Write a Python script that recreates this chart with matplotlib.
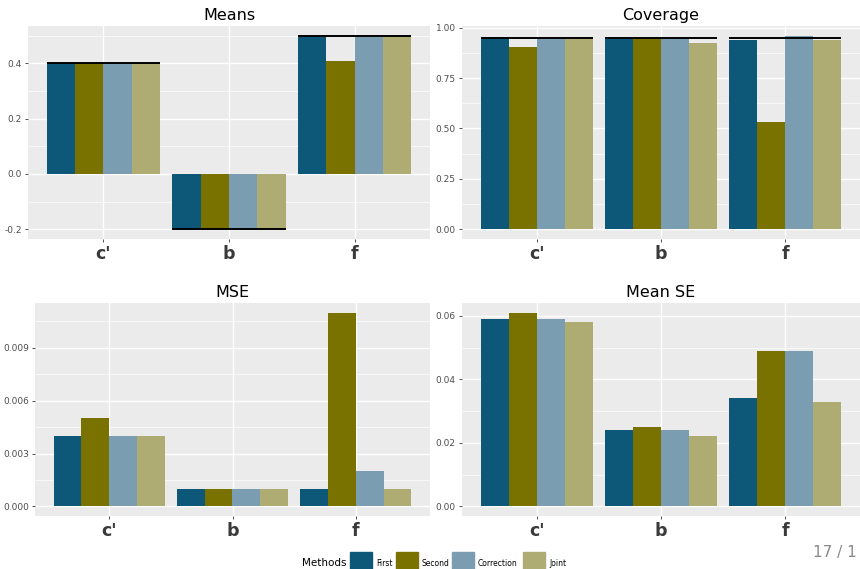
import numpy as np
import matplotlib
matplotlib.use("Agg")
import matplotlib.pyplot as plt
from matplotlib.patches import Rectangle

# ===== data =====
categories = ["c'", "b", "f"]
methods = ["First", "Second", "Correction", "Joint"]
colors = ["#0D5778", "#797100", "#7A9DB1", "#AEAC73"]

# rows = methods, cols = categories
means = [[0.40, -0.20, 0.50],
         [0.40, -0.20, 0.41],
         [0.40, -0.20, 0.50],
         [0.40, -0.20, 0.50]]
means_true = [0.40, -0.20, 0.50]

coverage = [[0.947, 0.942, 0.940],
            [0.904, 0.950, 0.531],
            [0.942, 0.948, 0.960],
            [0.942, 0.924, 0.940]]
coverage_target = [0.95, 0.95, 0.95]

mse = [[0.004, 0.001, 0.001],
       [0.005, 0.001, 0.011],
       [0.004, 0.001, 0.002],
       [0.004, 0.001, 0.001]]

mean_se = [[0.059, 0.024, 0.034],
           [0.061, 0.025, 0.049],
           [0.059, 0.024, 0.049],
           [0.058, 0.022, 0.033]]

W, H = 860, 569
fig = plt.figure(figsize=(W / 100, H / 100), dpi=100)
fig.patch.set_facecolor("white")


def px_axes(l, t, r, b):
    return fig.add_axes([l / W, 1 - b / H, (r - l) / W, (b - t) / H])


def panel(ax, title, vals, ylim, major, minor, fmt, ref=None):
    ax.set_facecolor("#EBEBEB")
    x = np.arange(1, len(categories) + 1)
    bw = 0.225
    for i, m in enumerate(methods):
        ax.bar(x + (i - 1.5) * bw, vals[i], width=bw, color=colors[i],
               zorder=3, linewidth=0)
    if ref is not None:
        ax.hlines(ref, x - 0.45, x + 0.45, colors="black", linewidth=1.4, zorder=4)
    ax.set_xlim(0.4, 3.6)
    ax.set_ylim(*ylim)
    ax.set_xticks(x)
    ax.set_xticklabels(categories, fontsize=12.5, fontweight="bold", color="#3A3A3A")
    ax.set_yticks(major)
    ax.set_yticklabels([fmt.format(v) for v in major], fontsize=6.5, color="#4D4D4D")
    ax.set_yticks(minor, minor=True)
    ax.tick_params(axis="y", which="minor", length=0)
    ax.tick_params(axis="both", which="major", length=2.5, width=0.6, color="#333333", pad=2)
    ax.grid(True, which="major", color="white", linewidth=1.0, zorder=0)
    ax.grid(True, which="minor", axis="y", color="white", linewidth=0.5, zorder=0)
    ax.set_axisbelow(True)
    for s in ax.spines.values():
        s.set_visible(False)
    ax.set_title(title, fontsize=11.5, pad=4, color="black")


ax1 = px_axes(28, 26, 430, 239)
panel(ax1, "Means", means, (-0.235, 0.535),
      [-0.2, 0.0, 0.2, 0.4], [-0.1, 0.1, 0.3, 0.5], "{:.1f}", ref=means_true)

ax2 = px_axes(462, 26, 860, 239)
panel(ax2, "Coverage", coverage, (-0.048, 1.008),
      [0, 0.25, 0.5, 0.75, 1.0], [0.125, 0.375, 0.625, 0.875], "{:.2f}", ref=coverage_target)

ax3 = px_axes(35, 303, 430, 516)
panel(ax3, "MSE", mse, (-0.00055, 0.01155),
      [0, 0.003, 0.006, 0.009], [0.0015, 0.0045, 0.0075, 0.0105], "{:.3f}")

ax4 = px_axes(462, 303, 860, 516)
panel(ax4, "Mean SE", mean_se, (-0.00305, 0.06405),
      [0, 0.02, 0.04, 0.06], [0.01, 0.03, 0.05], "{:.2f}")

# legend at the bottom
fig.text(302 / W, 1 - 563 / H, "Methods", fontsize=7.5, va="center", ha="left")
key_x = [350, 396, 452, 523]
for kx, m, c in zip(key_x, methods, colors):
    fig.patches.append(Rectangle((kx / W, 0), 22 / W, 17 / H,
                                 transform=fig.transFigure, color=c, zorder=3))
    fig.text((kx + 26) / W, 1 - 564 / H, m, fontsize=5.5, va="center", ha="left")

# slide page number (partly cut in the reference)
fig.text(857 / W, 1 - 553 / H, "17 / 1", fontsize=11, color="#8A8A8A",
         va="center", ha="right")

fig.savefig("out.png", dpi=100)
